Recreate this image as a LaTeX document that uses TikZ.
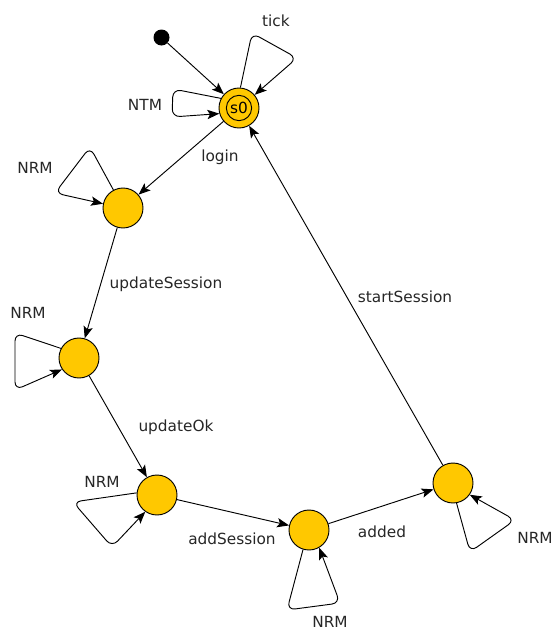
\documentclass[tikz,border=0pt]{standalone}
\usepackage{fontspec}
\setmainfont{DejaVu Sans}
\usetikzlibrary{arrows.meta}
\definecolor{stategold}{RGB}{255,200,0}
\begin{document}
\begin{tikzpicture}[x=0.75pt,y=-0.75pt,
  state/.style={circle,draw=black,line width=0.7pt,fill=stategold,minimum size=30pt,inner sep=0pt},
  initdot/.style={circle,fill=black,minimum size=12pt,inner sep=0pt},
  trans/.style={draw=black,line width=0.7pt,-{Stealth[length=9pt,width=7pt,inset=2pt]}},
  selfloop/.style={trans,rounded corners=6pt},
  lbl/.style={font=\fontsize{11.5}{13}\selectfont,text=black!85,inner sep=1pt}]
\useasboundingbox (0,0) rectangle (554,632);

% states
\node[initdot] (init) at (161.5,37.5) {};
\node[state] (s0) at (239,108) {};
\node[circle,draw=black,line width=0.7pt,minimum size=19pt,inner sep=0pt,
      font=\fontsize{11.5}{13}\selectfont] at (s0) {s0};
\node[state] (q1) at (123,208) {};
\node[state] (q2) at (79,358) {};
\node[state] (q3) at (157,495) {};
\node[state] (q4) at (309,530) {};
\node[state] (q5) at (453,483) {};

% transitions between states
\draw[trans] (init) -- (s0);
\draw[trans] (s0) -- (q1);
\draw[trans] (q1) -- (q2);
\draw[trans] (q2) -- (q3);
\draw[trans] (q3) -- (q4);
\draw[trans] (q4) -- (q5);
\draw[trans] (q5) -- (s0);

% self loops
\draw[selfloop] (s0.86) -- (252,33) -- (297,58) -- (s0.40);
\draw[selfloop] (s0.152) -- (173,89) -- (172,117) -- (s0.196);
\draw[selfloop] (q1.118) -- (90,147) -- (55,193) -- (q1.168);
\draw[selfloop] (q2.152) -- (15,333) -- (15,390) -- (q2.214);
\draw[selfloop] (q3.174) -- (73,502) -- (112,547) -- (q3.235);
\draw[selfloop] (q4.253) -- (287,610) -- (340,603) -- (q4.300);
\draw[selfloop] (q5.280) -- (470,552) -- (515,520) -- (q5.325);

% labels
\node[lbl] (l1) at (276,21) {tick};
\node[lbl] (l2) at (145,105) {NTM};
\node[lbl] (l3) at (220,157) {login};
\node[lbl] (l4) at (35,168) {NRM};
\node[lbl] (l5) at (166,284) {updateSession};
\node[lbl] (l6) at (28,313) {NRM};
\node[lbl] (l7) at (176,427) {updateOk};
\node[lbl] (l8) at (102,482) {NRM};
\node[lbl] (l9) at (232,539) {addSession};
\node[lbl] (l10) at (382,532) {added};
\node[lbl] (l11) at (330,622) {NRM};
\node[lbl] (l12) at (535,538) {NRM};
\node[lbl] (l13) at (405,297) {startSession};
\end{tikzpicture}
\end{document}
